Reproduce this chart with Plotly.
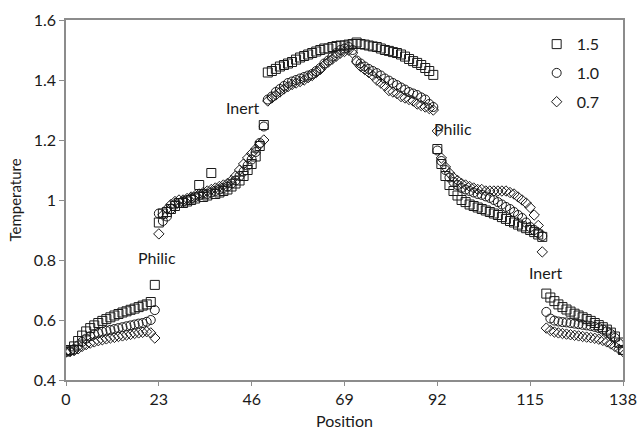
import plotly.graph_objects as go

positions = list(range(0, 139))

# Series "1.5" (squares)
temp_15 = [
    # 0-22
    0.495, 0.500, 0.512, 0.530, 0.548, 0.562, 0.573, 0.582, 0.590, 0.597, 0.603, 0.609,
    0.615, 0.620, 0.625, 0.629, 0.634, 0.638, 0.643, 0.648, 0.652, 0.660, 0.717,
    # 23-49
    0.925, 0.955, 0.960, 0.970, 0.980, 0.990, 0.990, 0.995, 1.000, 1.005, 1.050, 1.010,
    1.015, 1.090, 1.020, 1.025, 1.030, 1.035, 1.045, 1.055, 1.065, 1.080, 1.100, 1.120,
    1.145, 1.180, 1.250,
    # 50-91
    1.425, 1.430, 1.437, 1.445, 1.450, 1.455, 1.460, 1.468, 1.475, 1.480, 1.485, 1.490,
    1.495, 1.500, 1.505, 1.505, 1.510, 1.513, 1.515, 1.515, 1.518, 1.520, 1.525, 1.520,
    1.518, 1.515, 1.512, 1.510, 1.505, 1.500, 1.497, 1.493, 1.490, 1.485, 1.478, 1.470,
    1.463, 1.457, 1.450, 1.440, 1.430, 1.417,
    # 92-118
    1.170, 1.120, 1.080, 1.050, 1.030, 1.015, 1.000, 0.993, 0.985, 0.980, 0.975, 0.970,
    0.965, 0.960, 0.955, 0.950, 0.943, 0.937, 0.930, 0.925, 0.918, 0.912, 0.906, 0.900,
    0.893, 0.885, 0.877,
    # 119-138
    0.688, 0.675, 0.663, 0.652, 0.643, 0.635, 0.628, 0.621, 0.615, 0.609, 0.603, 0.597,
    0.590, 0.583, 0.576, 0.568, 0.558, 0.545, 0.525, 0.500,
]

# Series "1.0" (circles)
temp_10 = [
    # 0-22
    0.495, 0.497, 0.503, 0.515, 0.527, 0.538, 0.546, 0.552, 0.557, 0.561, 0.564, 0.567,
    0.570, 0.573, 0.576, 0.579, 0.582, 0.585, 0.588, 0.590, 0.594, 0.600, 0.633,
    # 23-49
    0.955, 0.930, 0.945, 0.970, 0.985, 0.990, 0.995, 1.000, 1.005, 1.010, 1.015, 1.020,
    1.020, 1.025, 1.030, 1.035, 1.040, 1.045, 1.055, 1.065, 1.080, 1.095, 1.115, 1.135,
    1.160, 1.190, 1.245,
    # 50-91
    1.335, 1.345, 1.360, 1.370, 1.380, 1.390, 1.395, 1.400, 1.405, 1.410, 1.415, 1.420,
    1.430, 1.440, 1.455, 1.465, 1.478, 1.490, 1.500, 1.505, 1.510, 1.500, 1.465, 1.455,
    1.445, 1.437, 1.430, 1.423, 1.415, 1.405, 1.398, 1.390, 1.383, 1.375, 1.368, 1.360,
    1.355, 1.350, 1.342, 1.335, 1.320, 1.310,
    # 92-118
    1.165, 1.130, 1.100, 1.075, 1.060, 1.050, 1.040, 1.035, 1.030, 1.025, 1.020, 1.017,
    1.012, 1.007, 1.000, 0.993, 0.985, 0.977, 0.970, 0.960, 0.950, 0.940, 0.925, 0.910,
    0.900, 0.890, 0.880,
    # 119-138
    0.627, 0.605, 0.598, 0.595, 0.593, 0.592, 0.590, 0.588, 0.586, 0.584, 0.582, 0.580,
    0.577, 0.573, 0.568, 0.562, 0.553, 0.540, 0.522, 0.500,
]

# Series "0.7" (diamonds)
temp_07 = [
    # 0-22
    0.493, 0.495, 0.498, 0.504, 0.512, 0.518, 0.523, 0.527, 0.531, 0.534, 0.537, 0.540,
    0.542, 0.545, 0.547, 0.550, 0.552, 0.555, 0.557, 0.559, 0.561, 0.557, 0.540,
    # 23-49
    0.887, 0.950, 0.970, 0.985, 0.995, 1.000, 1.000, 1.005, 1.010, 1.015, 1.020, 1.025,
    1.030, 1.035, 1.040, 1.045, 1.050, 1.055, 1.065, 1.080, 1.100, 1.120, 1.140, 1.155,
    1.170, 1.185, 1.200,
    # 50-91
    1.330, 1.340, 1.350, 1.360, 1.370, 1.378, 1.385, 1.390, 1.395, 1.400, 1.408, 1.415,
    1.425, 1.435, 1.450, 1.460, 1.470, 1.480, 1.490, 1.495, 1.500, 1.490, 1.460, 1.445,
    1.435, 1.425, 1.415, 1.400, 1.390, 1.380, 1.365, 1.360, 1.355, 1.345, 1.340, 1.335,
    1.330, 1.320, 1.315, 1.310, 1.305, 1.300,
    # 92-118
    1.230, 1.140, 1.110, 1.090, 1.075, 1.065, 1.055, 1.050, 1.045, 1.040, 1.035, 1.035,
    1.030, 1.030, 1.030, 1.030, 1.030, 1.030, 1.025, 1.020, 1.010, 1.000, 0.990, 0.975,
    0.950, 0.915, 0.827,
    # 119-138
    0.573, 0.565, 0.560, 0.557, 0.555, 0.553, 0.551, 0.549, 0.547, 0.545, 0.543, 0.541,
    0.539, 0.536, 0.532, 0.527, 0.520, 0.512, 0.503, 0.495,
]

series_names = ["1.5", "1.0", "0.7"]
series_symbols = ["square-open", "circle-open", "diamond-open"]
series_values = [temp_15, temp_10, temp_07]
series_sizes = [9, 9, 8]

x_tick_vals = [0, 23, 46, 69, 92, 115, 138]
y_tick_vals = [0.4, 0.6, 0.8, 1.0, 1.2, 1.4, 1.6]
y_tick_text = ["0.4", "0.6", "0.8", "1", "1.2", "1.4", "1.6"]

region_labels = ["Philic", "Inert", "Philic", "Inert"]
region_label_x = [22.5, 43.9, 96.0, 118.9]
region_label_y = [0.807, 1.307, 1.24, 0.76]

FONT = "Lato, 'Open Sans', sans-serif"
INK = "#1a1a1a"

fig = go.Figure()
for i, (name, sym, vals, sz) in enumerate(zip(series_names, series_symbols, series_values, series_sizes)):
    fig.add_trace(go.Scatter(
        x=positions, y=vals, mode="markers", name=name, legendgroup=f"g{i}",
        marker=dict(symbol=sym, size=sz, color=INK, line=dict(width=1, color=INK)),
    ))

for txt, lx, ly in zip(region_labels, region_label_x, region_label_y):
    fig.add_annotation(x=lx, y=ly, text=txt, showarrow=False,
                       font=dict(family=FONT, size=16, color=INK))

fig.update_layout(
    width=637, height=431,
    margin=dict(l=66, r=14, t=20, b=51, autoexpand=False),
    paper_bgcolor="white", plot_bgcolor="white",
    font=dict(family=FONT, size=15, color=INK),
    showlegend=True,
    legend=dict(x=0.845, y=0.98, xanchor="left", yanchor="top",
                bgcolor="rgba(0,0,0,0)", font=dict(size=16, family=FONT, color=INK),
                traceorder="grouped", tracegroupgap=5, itemsizing="trace",
                itemwidth=30),
    xaxis=dict(range=[0, 138], tickvals=x_tick_vals, showgrid=False, zeroline=False,
               automargin=False,
               showline=True, linecolor="#8c8c8c", linewidth=1.5, mirror=True,
               ticks="outside", ticklen=4, tickcolor="#8c8c8c",
               tickfont=dict(family=FONT, size=16, color=INK),
               title=dict(text="Position", font=dict(family=FONT, size=16, color=INK), standoff=9)),
    yaxis=dict(range=[0.4, 1.6], tickvals=y_tick_vals, ticktext=y_tick_text, showgrid=False,
               automargin=False,
               zeroline=False, showline=True, linecolor="#8c8c8c", linewidth=1.5, mirror=True,
               ticks="outside", ticklen=5, tickcolor="#8c8c8c",
               tickfont=dict(family=FONT, size=16, color=INK),
               title=dict(text="Temperature", font=dict(family=FONT, size=15, color=INK), standoff=8)),
)

fig.write_html("out.html", config={"displayModeBar": False},
               post_script="document.body.style.margin='0';document.body.style.overflow='hidden';")
